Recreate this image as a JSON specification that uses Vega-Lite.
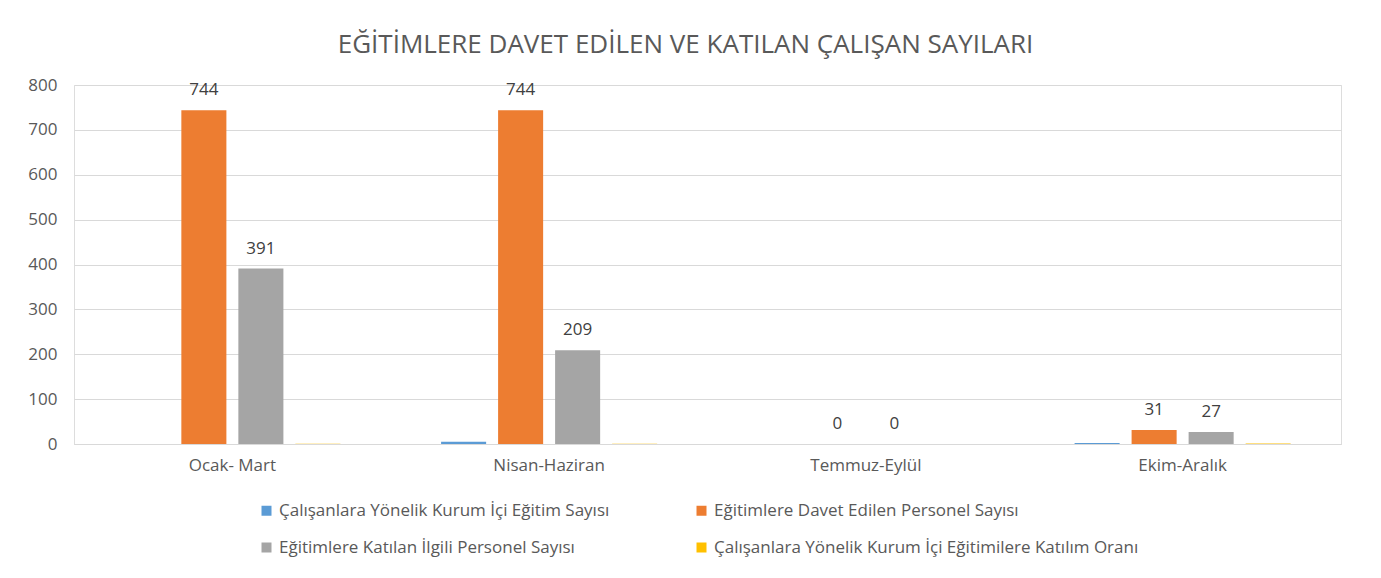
{
  "$schema": "https://vega.github.io/schema/vega-lite/v6.json",
  "autosize": {"type": "none"},
  "width": 1267,
  "height": 359,
  "padding": {"left": 74, "top": 85, "right": 40, "bottom": 134},
  "background": "white",
  "title": {
    "text": "EĞİTİMLERE DAVET EDİLEN VE KATILAN ÇALIŞAN SAYILARI",
    "anchor": "middle",
    "frame": "group",
    "dx": -22,
    "offset": 18,
    "fontSize": 26,
    "fontWeight": "normal",
    "font": "Open Sans",
    "color": "#595959"
  },
  "data": {
    "values": [
      {"donem": "Ocak- Mart", "seri": "Çalışanlara Yönelik Kurum İçi Eğitim Sayısı", "deger": 0},
      {"donem": "Ocak- Mart", "seri": "Eğitimlere Davet Edilen Personel Sayısı", "deger": 744},
      {"donem": "Ocak- Mart", "seri": "Eğitimlere Katılan İlgili Personel Sayısı", "deger": 391},
      {"donem": "Ocak- Mart", "seri": "Çalışanlara Yönelik Kurum İçi Eğitimilere Katılım Oranı", "deger": 0.53},
      {"donem": "Nisan-Haziran", "seri": "Çalışanlara Yönelik Kurum İçi Eğitim Sayısı", "deger": 5},
      {"donem": "Nisan-Haziran", "seri": "Eğitimlere Davet Edilen Personel Sayısı", "deger": 744},
      {"donem": "Nisan-Haziran", "seri": "Eğitimlere Katılan İlgili Personel Sayısı", "deger": 209},
      {"donem": "Nisan-Haziran", "seri": "Çalışanlara Yönelik Kurum İçi Eğitimilere Katılım Oranı", "deger": 0.28},
      {"donem": "Temmuz-Eylül", "seri": "Çalışanlara Yönelik Kurum İçi Eğitim Sayısı", "deger": 0},
      {"donem": "Temmuz-Eylül", "seri": "Eğitimlere Davet Edilen Personel Sayısı", "deger": 0},
      {"donem": "Temmuz-Eylül", "seri": "Eğitimlere Katılan İlgili Personel Sayısı", "deger": 0},
      {"donem": "Temmuz-Eylül", "seri": "Çalışanlara Yönelik Kurum İçi Eğitimilere Katılım Oranı", "deger": 0},
      {"donem": "Ekim-Aralık", "seri": "Çalışanlara Yönelik Kurum İçi Eğitim Sayısı", "deger": 2},
      {"donem": "Ekim-Aralık", "seri": "Eğitimlere Davet Edilen Personel Sayısı", "deger": 31},
      {"donem": "Ekim-Aralık", "seri": "Eğitimlere Katılan İlgili Personel Sayısı", "deger": 27},
      {"donem": "Ekim-Aralık", "seri": "Çalışanlara Yönelik Kurum İçi Eğitimilere Katılım Oranı", "deger": 0.87}
    ]
  },
  "encoding": {
    "x": {
      "field": "donem",
      "type": "nominal",
      "sort": ["Ocak- Mart", "Nisan-Haziran", "Temmuz-Eylül", "Ekim-Aralık"],
      "scale": {"paddingInner": 0, "paddingOuter": 0},
      "axis": {
        "title": null,
        "labelAngle": 0,
        "ticks": false,
        "domain": true,
        "domainColor": "#d9d9d9",
        "labelPadding": 13,
        "labelFontSize": 17,
        "labelColor": "#595959",
        "labelFont": "Open Sans"
      }
    },
    "xOffset": {
      "field": "seri",
      "type": "nominal",
      "scale": {
        "domain": [
          "Çalışanlara Yönelik Kurum İçi Eğitim Sayısı",
          "Eğitimlere Davet Edilen Personel Sayısı",
          "Eğitimlere Katılan İlgili Personel Sayısı",
          "Çalışanlara Yönelik Kurum İçi Eğitimilere Katılım Oranı"
        ],
        "paddingInner": 0.21,
        "paddingOuter": 0.883
      }
    },
    "y": {
      "field": "deger",
      "type": "quantitative",
      "scale": {"domain": [0, 800], "nice": false},
      "axis": {
        "title": null,
        "values": [0, 100, 200, 300, 400, 500, 600, 700, 800],
        "ticks": false,
        "domain": false,
        "gridColor": "#d9d9d9",
        "labelPadding": 17,
        "labelFontSize": 17,
        "labelColor": "#595959",
        "labelFont": "Open Sans"
      }
    }
  },
  "layer": [
    {
      "mark": {"type": "bar"},
      "encoding": {
        "color": {
          "field": "seri",
          "type": "nominal",
          "scale": {
            "domain": [
              "Çalışanlara Yönelik Kurum İçi Eğitim Sayısı",
              "Eğitimlere Davet Edilen Personel Sayısı",
              "Eğitimlere Katılan İlgili Personel Sayısı",
              "Çalışanlara Yönelik Kurum İçi Eğitimilere Katılım Oranı"
            ],
            "range": ["#5B9BD5", "#ED7D31", "#A5A5A5", "#FFC000"]
          },
          "legend": {
            "title": null,
            "orient": "none",
            "direction": "horizontal",
            "legendX": 184,
            "legendY": 417,
            "columns": 2,
            "columnPadding": 83,
            "rowPadding": 19,
            "labelLimit": 0,
            "symbolType": "square",
            "symbolSize": 100,
            "symbolStrokeWidth": 0,
            "labelFontSize": 17,
            "labelFont": "Open Sans",
            "labelColor": "#595959",
            "labelOffset": 4
          }
        }
      }
    },
    {
      "transform": [
        {"filter": "datum.seri === 'Eğitimlere Davet Edilen Personel Sayısı' || datum.seri === 'Eğitimlere Katılan İlgili Personel Sayısı'"}
      ],
      "mark": {"type": "text", "dy": -20, "fontSize": 17, "font": "Open Sans", "color": "#404040"},
      "encoding": {
        "text": {"field": "deger", "type": "quantitative"}
      }
    }
  ]
}
